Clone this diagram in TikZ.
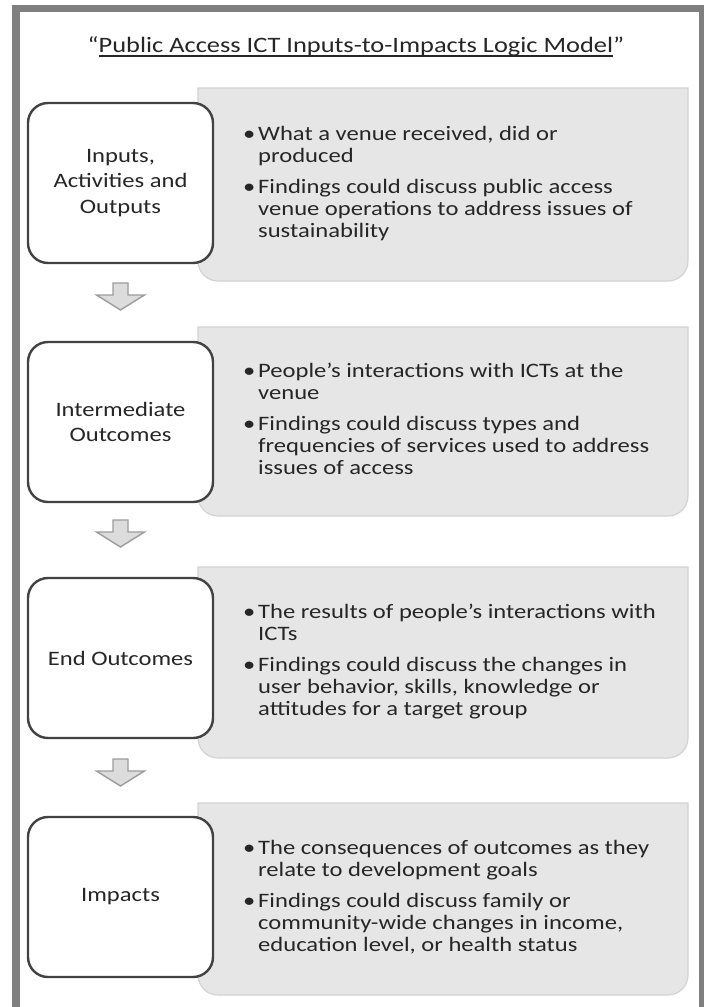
\documentclass[tikz,border=0pt]{standalone}
\usepackage{fontspec}
\newfontfamily\calfont[FakeStretch=1.2]{Carlito}
\usetikzlibrary{calc}

\definecolor{framegray}{HTML}{7F7F7F}
\definecolor{panelfill}{HTML}{E6E6E6}
\definecolor{paneledge}{HTML}{D3D3D3}
\definecolor{boxedge}{HTML}{424242}
\definecolor{inkgray}{HTML}{262626}
\definecolor{arrowedge}{HTML}{9C9C9C}
\definecolor{arrowfill}{HTML}{DCDCDC}

% underline drawn as a rule of chosen thickness
\newcommand\thickul[1]{\setbox0\hbox{#1}\rlap{\rule[-5pt]{\wd0}{1.6pt}}\box0}
\newcommand\bul{\makebox[15pt][l]{\textbullet}}

\tikzset{
  stage/.style={draw=boxedge, line width=2.4pt, rounded corners=20pt, fill=white,
    minimum width=185pt, minimum height=160pt, inner sep=0pt, align=center,
    text=inkgray, font=\calfont\fontsize{20.5}{25.5}\selectfont},
  panel/.style={fill=panelfill, draw=paneledge, line width=1.2pt},
  paneltext/.style={anchor=west, inner sep=0pt, text=inkgray,
    font=\calfont\fontsize{20.5}{22}\selectfont},
  titletext/.style={inner sep=0pt, text=inkgray, font=\calfont\fontsize{22}{26}\selectfont},
  blockarrow/.style={draw=arrowedge, fill=arrowfill, line width=1.4pt, line join=miter},
  downarrow/.pic={\draw[blockarrow] (-7.5,0) -- (7.5,0) -- (7.5,12) -- (24,12) -- (0,27)
    -- (-24,12) -- (-7.5,12) -- cycle;}
}

\begin{document}
\begin{tikzpicture}[x=1pt, y=-1pt]
\useasboundingbox (0,0) rectangle (704,1007);
\fill[white] (0,0) rectangle (704,1007);

% frame, open at the bottom
\fill[framegray] (12,5) rectangle (704,12);
\fill[framegray] (12,5) rectangle (20,1007);
\fill[framegray] (698.5,5) rectangle (703.5,1007);

% title
\node[titletext, anchor=base] (title) at (356,52)
  {“\thickul{Public Access ICT Inputs-to-Impacts Logic Model}”};

% grey panels, square on the left and rounded on the right
\draw[panel] (198,88) -- (688,88) [rounded corners=20pt] -- (688,281) -- (198,281) [sharp corners] -- cycle;
\draw[panel] (198,327) -- (688,327) [rounded corners=20pt] -- (688,516) -- (198,516) [sharp corners] -- cycle;
\draw[panel] (198,567) -- (688,567) [rounded corners=20pt] -- (688,758) -- (198,758) [sharp corners] -- cycle;
\draw[panel] (198,803) -- (688,803) [rounded corners=20pt] -- (688,995) -- (198,995) [sharp corners] -- cycle;

% stage boxes
\node[stage] (b1) at (120.5,183) {Inputs,\\Activities and\\Outputs};
\node[stage] (b2) at (120.5,422) {Intermediate\\Outcomes};
\node[stage] (b3) at (120.5,658) {End Outcomes};
\node[stage] (b4) at (120.5,897) {Impacts};

% descriptions
\node[paneltext] (d1) at (243,184.5) {\begin{tabular}{@{}l@{}l@{}}
\bul & What a venue received, did or\\
 & produced\\[9pt]
\bul & Findings could discuss public access\\
 & venue operations to address issues of\\
 & sustainability
\end{tabular}};
\node[paneltext] (d2) at (243,421.5) {\begin{tabular}{@{}l@{}l@{}}
\bul & People’s interactions with ICTs at the\\
 & venue\\[9pt]
\bul & Findings could discuss types and\\
 & frequencies of services used to address\\
 & issues of access
\end{tabular}};
\node[paneltext] (d3) at (243,662.5) {\begin{tabular}{@{}l@{}l@{}}
\bul & The results of people’s interactions with\\
 & ICTs\\[9pt]
\bul & Findings could discuss the changes in\\
 & user behavior, skills, knowledge or\\
 & attitudes for a target group
\end{tabular}};
\node[paneltext] (d4) at (243,899) {\begin{tabular}{@{}l@{}l@{}}
\bul & The consequences of outcomes as they\\
 & relate to development goals\\[9pt]
\bul & Findings could discuss family or\\
 & community-wide changes in income,\\
 & education level, or health status
\end{tabular}};

% block arrows between the stages
\pic at (120.5,283) {downarrow};
\pic at (120.5,520) {downarrow};
\pic at (120.5,759) {downarrow};
\end{tikzpicture}
\end{document}
